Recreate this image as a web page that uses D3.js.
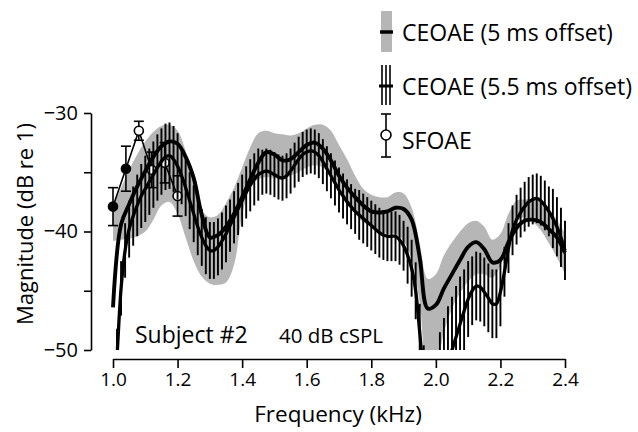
<!DOCTYPE html>
<html><head><meta charset="utf-8">
<script src="https://cdn.jsdelivr.net/npm/d3@7"></script>
<style>
body{margin:0;background:#fff}
svg{display:block}
text{font-family:"Open Sans",sans-serif;fill:#000}
</style>
</head><body>
<svg id="c" width="638" height="432"></svg>
<script>
// ---- data ----
const freq5 = [1.000,1.025,1.050,1.075,1.100,1.125,1.150,1.175,1.200,1.225,1.250,1.275,1.300,1.325,1.350,1.375,1.400,1.425,1.450,1.475,1.500,1.525,1.550,1.575,1.600,1.625,1.650,1.675,1.700,1.725,1.750,1.775,1.800,1.825,1.850,1.875,1.900,1.925,1.950,1.975,2.000,2.025,2.050,2.075,2.100,2.125,2.150,2.175,2.200,2.225,2.250,2.275,2.300,2.325,2.350,2.375,2.400];
const mean5 = [-46.4,-39.4,-37.7,-36.2,-34.9,-33.7,-32.8,-32.4,-32.6,-33.7,-35.5,-38.6,-40.5,-40.3,-39.6,-38.5,-37.1,-35.6,-34.2,-33.3,-33.5,-34.0,-33.9,-33.3,-32.7,-32.5,-33.0,-34.0,-35.3,-36.3,-37.1,-37.8,-38.3,-38.4,-38.3,-38.0,-38.1,-39.0,-42.2,-46.5,-46.2,-44.8,-43.6,-42.4,-41.3,-40.9,-41.5,-42.6,-42.4,-40.9,-39.7,-39.1,-39.0,-39.2,-39.8,-40.5,-41.8];
const hi5 = [-37.8,-36.3,-34.8,-33.5,-32.4,-31.6,-31.1,-31.0,-31.5,-33.2,-35.8,-38.2,-38.8,-38.6,-37.6,-36.3,-34.6,-32.9,-31.7,-31.5,-31.7,-31.8,-31.9,-31.7,-31.3,-31.0,-31.0,-31.5,-32.7,-33.9,-35.3,-36.4,-36.9,-37.1,-37.1,-36.7,-36.8,-38.0,-41.0,-44.0,-43.6,-42.0,-40.9,-40.0,-39.3,-39.1,-39.6,-40.7,-40.2,-38.5,-37.4,-37.3,-37.3,-37.5,-38.1,-39.0,-40.2];
const lo5 = [-40.8,-40.7,-40.6,-40.4,-40.0,-39.0,-37.8,-37.5,-38.5,-40.5,-42.5,-43.8,-44.4,-44.5,-44.3,-42.8,-38.6,-36.3,-35.6,-35.4,-35.5,-35.6,-35.3,-35.0,-34.6,-34.4,-34.6,-35.3,-36.4,-37.5,-38.5,-39.2,-39.6,-40.0,-40.2,-40.2,-40.8,-42.3,-46.0,-51.0,-51.0,-48.5,-46.5,-45.2,-44.2,-43.6,-43.6,-43.9,-42.9,-40.8,-39.2,-38.8,-39.2,-39.9,-41.0,-42.2,-43.6];

const freq55 = [1.0000,1.0125,1.0250,1.0375,1.0500,1.0625,1.0750,1.0875,1.1000,1.1125,1.1250,1.1375,1.1500,1.1625,1.1750,1.1875,1.2000,1.2125,1.2250,1.2375,1.2500,1.2625,1.2750,1.2875,1.3000,1.3125,1.3250,1.3375,1.3500,1.3625,1.3750,1.3875,1.4000,1.4125,1.4250,1.4375,1.4500,1.4625,1.4750,1.4875,1.5000,1.5125,1.5250,1.5375,1.5500,1.5625,1.5750,1.5875,1.6000,1.6125,1.6250,1.6375,1.6500,1.6625,1.6750,1.6875,1.7000,1.7125,1.7250,1.7375,1.7500,1.7625,1.7750,1.7875,1.8000,1.8125,1.8250,1.8375,1.8500,1.8625,1.8750,1.8875,1.9000,1.9125,1.9250,1.9375,1.9500,1.9625,1.9750,1.9875,2.0000,2.0125,2.0250,2.0375,2.0500,2.0625,2.0750,2.0875,2.1000,2.1125,2.1250,2.1375,2.1500,2.1625,2.1750,2.1875,2.2000,2.2125,2.2250,2.2375,2.2500,2.2625,2.2750,2.2875,2.3000,2.3125,2.3250,2.3375,2.3500,2.3625,2.3750,2.3875,2.4000];
const mean55 = [-56.0,-50.5,-44.8,-41.6,-39.8,-38.7,-37.8,-37.0,-36.4,-35.8,-35.2,-34.6,-34.1,-33.7,-33.6,-33.9,-34.5,-35.3,-36.3,-37.4,-38.5,-39.6,-40.5,-41.2,-41.6,-41.6,-41.3,-40.8,-40.2,-39.5,-38.8,-38.1,-37.4,-36.7,-36.1,-35.6,-35.2,-35.0,-34.9,-35.0,-35.2,-35.4,-35.5,-35.3,-34.9,-34.4,-33.9,-33.5,-33.3,-33.2,-33.3,-33.6,-34.1,-34.7,-35.3,-35.9,-36.5,-37.0,-37.5,-37.9,-38.3,-38.6,-38.9,-39.2,-39.5,-39.8,-40.1,-40.3,-40.4,-40.4,-40.4,-40.7,-41.2,-42.0,-43.1,-45.0,-48.5,-52.0,-54.0,-55.0,-54.5,-53.0,-51.8,-50.8,-50.0,-48.9,-47.8,-46.7,-45.7,-45.0,-44.6,-44.7,-45.1,-45.6,-46.1,-46.1,-45.1,-43.4,-41.4,-39.9,-39.0,-38.4,-37.9,-37.5,-37.3,-37.2,-37.4,-37.8,-38.3,-38.9,-39.6,-40.5,-41.6];
const sd55 = [2.3,2.3,2.3,2.3,2.4,2.5,2.6,2.7,2.8,2.8,2.8,2.8,2.8,2.8,2.8,2.8,2.8,2.4,2.4,2.4,2.4,2.4,2.4,2.4,2.4,2.4,2.4,2.4,2.4,2.2,2.2,2.2,2.2,2.2,2.2,2.2,2.2,1.9,1.9,1.9,1.9,1.9,1.9,1.9,1.9,1.9,1.9,1.9,1.9,1.9,1.9,1.9,1.9,1.9,1.9,1.9,1.9,1.9,1.9,1.9,1.9,2.1,2.1,2.1,2.1,2.1,2.1,2.1,2.1,2.1,2.1,2.1,2.1,2.4,2.4,2.4,2.4,2.4,2.4,2.4,4.3,4.5,4.5,4.5,4.5,4.3,4.0,3.5,3.2,2.9,2.9,2.9,2.9,2.9,2.9,2.9,2.9,2.1,2.1,2.1,2.1,2.1,2.1,2.1,2.1,2.1,2.1,2.1,2.1,2.5,2.5,2.5,2.5];

const sfFreq = [1.00,1.04,1.08,1.12,1.16,1.20];
const sfMag  = [-37.9,-34.7,-31.5,-34.8,-34.2,-37.0];
const sfErr  = [1.6,1.9,0.8,1.5,1.7,1.7];
const sfFilled = [true,true,false,false,false,false];

const xTicks = [1.0,1.2,1.4,1.6,1.8,2.0,2.2,2.4];
const yTicks = [-50,-45,-40,-35,-30];
const yLabelled = [-50,-40,-30];
const legendLabels = ["CEOAE (5 ms offset)","CEOAE (5.5 ms offset)","SFOAE"];

// ---- chart ----
const svg = d3.select("#c");
const x = d3.scaleLinear().domain([1.0,2.4]).range([113,565]);
const y = d3.scaleLinear().domain([-50,-30]).range([350,113]);
const FONT = '"Open Sans", sans-serif';
const GRAY = "#b6b6b6";

svg.append("defs").append("clipPath").attr("id","clip")
  .append("rect").attr("x",100).attr("y",90).attr("width",480).attr("height",260);
const plot = svg.append("g").attr("clip-path","url(#clip)");

const band = freq5.map((f,i)=>({f,lo:lo5[i],hi:hi5[i],m:mean5[i]}));
plot.append("path").datum(band)
  .attr("d", d3.area().x(d=>x(d.f)).y0(d=>y(d.lo)).y1(d=>y(d.hi)).curve(d3.curveCatmullRom))
  .attr("fill", GRAY);

// SFOAE (under the CEOAE curves)
const sf = sfFreq.map((f,i)=>({f,m:sfMag[i],e:sfErr[i],filled:sfFilled[i]}));
const gsf = svg.append("g");
gsf.append("path").datum(sf)
  .attr("d", d3.line().x(d=>x(d.f)).y(d=>y(d.m)))
  .attr("fill","none").attr("stroke","#000").attr("stroke-width",1.6);
const eb = gsf.selectAll("g.eb").data(sf).join("g").attr("class","eb");
eb.append("line").attr("x1",d=>x(d.f)).attr("x2",d=>x(d.f)).attr("y1",d=>y(d.m+d.e)).attr("y2",d=>y(d.m-d.e)).attr("stroke","#000").attr("stroke-width",1.6);
eb.append("line").attr("x1",d=>x(d.f)-5).attr("x2",d=>x(d.f)+5).attr("y1",d=>y(d.m+d.e)).attr("y2",d=>y(d.m+d.e)).attr("stroke","#000").attr("stroke-width",1.6);
eb.append("line").attr("x1",d=>x(d.f)-5).attr("x2",d=>x(d.f)+5).attr("y1",d=>y(d.m-d.e)).attr("y2",d=>y(d.m-d.e)).attr("stroke","#000").attr("stroke-width",1.6);
eb.append("circle").attr("cx",d=>x(d.f)).attr("cy",d=>y(d.m)).attr("r",4.5)
  .attr("fill",d=>d.filled?"#000":"#fff").attr("stroke","#000").attr("stroke-width",1.6);

const plot2 = svg.append("g").attr("clip-path","url(#clip)");
const s55 = freq55.map((f,i)=>({f,m:mean55[i],s:sd55[i]}));
plot2.selectAll("line.bar").data(s55).join("line").attr("class","bar")
  .attr("x1",d=>x(d.f)).attr("x2",d=>x(d.f))
  .attr("y1",d=>y(d.m-d.s)).attr("y2",d=>y(d.m+d.s))
  .attr("stroke","#000").attr("stroke-width",1.9);

plot2.append("path").datum(s55)
  .attr("d", d3.line().x(d=>x(d.f)).y(d=>y(d.m)).curve(d3.curveCatmullRom))
  .attr("fill","none").attr("stroke","#000").attr("stroke-width",3.3).attr("stroke-linejoin","round");

plot2.append("path").datum(band)
  .attr("d", d3.line().x(d=>x(d.f)).y(d=>y(d.m)).curve(d3.curveCatmullRom))
  .attr("fill","none").attr("stroke","#000").attr("stroke-width",3.9).attr("stroke-linejoin","round");

// axes
const yAxis = svg.append("g").attr("transform","translate(91,0)")
  .call(d3.axisLeft(y).tickValues(yTicks).tickSize(7).tickSizeOuter(0).tickPadding(6)
    .tickFormat(d=>yLabelled.includes(d)? "\u2212"+Math.abs(d) : ""));
const xAxis = svg.append("g").attr("transform","translate(0,359)")
  .call(d3.axisBottom(x).tickValues(xTicks).tickSize(9).tickSizeOuter(0).tickPadding(5)
    .tickFormat(d3.format(".1f")));
[yAxis,xAxis].forEach(g=>{
  g.selectAll("path.domain").attr("stroke","#000").attr("stroke-width",1.6);
  g.selectAll(".tick line").attr("stroke","#000").attr("stroke-width",1.6);
  g.selectAll("text").attr("font-family",FONT).attr("fill","#000");
});
yAxis.selectAll("text").attr("font-size",20);
xAxis.selectAll("text").attr("font-size",19);

svg.append("text").attr("x",338).attr("y",422).attr("text-anchor","middle")
  .attr("font-size",22.5).text("Frequency (kHz)");
svg.append("text").attr("transform","translate(33,224) rotate(-90)").attr("text-anchor","middle")
  .attr("font-size",22).text("Magnitude (dB re 1)");

svg.append("text").attr("x",135).attr("y",343).attr("font-size",23).text("Subject #2");
svg.append("text").attr("x",279).attr("y",343).attr("font-size",20.5).text("40 dB cSPL");

// legend
const lg = svg.append("g");
lg.append("rect").attr("x",381).attr("y",11).attr("width",11).attr("height",41).attr("fill",GRAY);
lg.append("line").attr("x1",380).attr("x2",393).attr("y1",32).attr("y2",32).attr("stroke","#000").attr("stroke-width",3.5);
[382,386,390].forEach(v=>lg.append("line").attr("x1",v).attr("x2",v).attr("y1",65).attr("y2",105).attr("stroke","#000").attr("stroke-width",1.6));
lg.append("line").attr("x1",379).attr("x2",393).attr("y1",86).attr("y2",86).attr("stroke","#000").attr("stroke-width",3);
lg.append("line").attr("x1",386).attr("x2",386).attr("y1",114).attr("y2",157).attr("stroke","#000").attr("stroke-width",1.6);
lg.append("line").attr("x1",381).attr("x2",391).attr("y1",114).attr("y2",114).attr("stroke","#000").attr("stroke-width",1.6);
lg.append("line").attr("x1",381).attr("x2",391).attr("y1",157).attr("y2",157).attr("stroke","#000").attr("stroke-width",1.6);
lg.append("circle").attr("cx",386).attr("cy",135).attr("r",5).attr("fill","#fff").attr("stroke","#000").attr("stroke-width",1.6);
lg.selectAll("text.lt").data(legendLabels).join("text").attr("class","lt")
  .attr("x",402).attr("y",(d,i)=>41+i*54).attr("font-size",23).text(d=>d);
</script>
</body></html>
